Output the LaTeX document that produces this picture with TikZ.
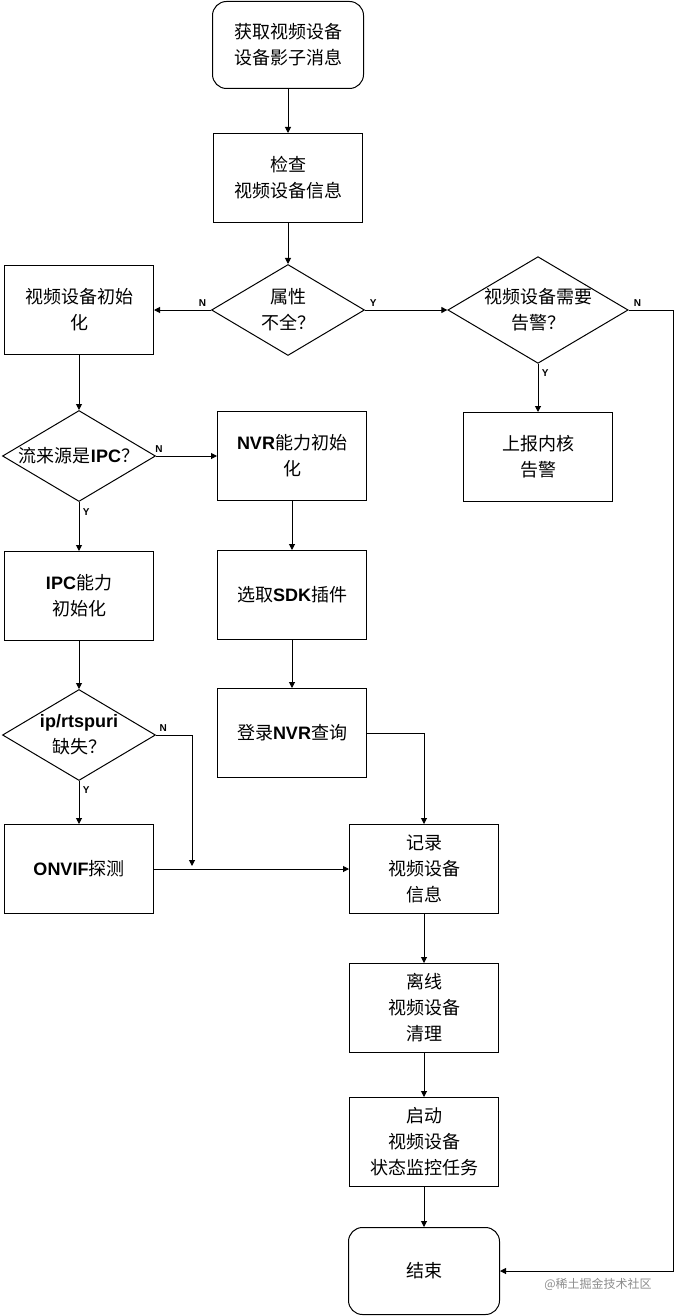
\documentclass[tikz,border=0pt]{standalone}
\usepackage{fontspec}
\setmainfont{Liberation Sans}
\newfontfamily\cjk{Noto Sans CJK SC}
\usetikzlibrary{shapes.geometric,arrows.meta}
\newcommand{\en}[1]{{\rmfamily\bfseries #1}}
\tikzset{
    box/.style={draw, line width=1, minimum width=149pt, minimum height=89pt, align=center, font=\cjk\fontsize{18}{26}\selectfont},
    term/.style={box, rounded corners=14pt, minimum width=151pt, minimum height=87pt},
    dec/.style={draw, line width=1, diamond, aspect=1.69, minimum width=153pt, minimum height=91pt, inner sep=0pt, align=center, font=\cjk\fontsize{18}{26}\selectfont},
    arr/.style={-{Triangle[length=6pt,width=6pt]}, line width=1},
    lab/.style={font=\rmfamily\bfseries\fontsize{10}{12}\selectfont}
}
\begin{document}
\begin{tikzpicture}[x=1pt, y=-1pt]
        \useasboundingbox (0,0) rectangle (683,1316);
        \node[term] (get) at (288,45) {获取视频设备\\设备影子消息};
        \node[box] (check) at (288,178) {检查\\视频设备信息};
        \node[dec] (attr) at (288,310) {属性\\不全？};
        \node[box] (init) at (79,310) {视频设备初始\\化};
        \node[dec] (alarm) at (538,310) {视频设备需要\\告警？};
        \node[box] (report) at (538,457) {上报内核\\告警};
        \node[dec] (src) at (79,456) {流来源是\en{IPC}？};
        \node[box] (nvr) at (292,456) {\en{NVR}能力初始\\化};
        \node[box] (ipc) at (79,596) {\en{IPC}能力\\初始化};
        \node[box] (sdk) at (292,595) {选取\en{SDK}插件};
        \node[dec] (miss) at (79,735) {\en{ip/rtspuri}\\缺失？};
        \node[box] (login) at (292,733) {登录\en{NVR}查询};
        \node[box] (onvif) at (79,869) {\en{ONVIF}探测};
        \node[box] (record) at (424,869) {记录\\视频设备\\信息};
        \node[box] (offline) at (424,1008) {离线\\视频设备\\清理};
        \node[box] (monitor) at (424,1142) {启动\\视频设备\\状态监控任务};
        \node[term] (end) at (424,1271) {结束};
        \node[font=\cjk\fontsize{12}{14}\selectfont, text=black!45] (mark) at (598,1284) {@稀土掘金技术社区};
        \coordinate (cA) at (673,310);
        \coordinate (cB) at (673,1271);
        \coordinate (cC) at (424,733);
        \coordinate (cD) at (192,735);
        \coordinate (cE) at (192,866);

        \draw[arr] (get) -- (check);
        \draw[arr] (check) -- (attr);
        \draw[arr] (attr) -- node[lab, pos=0.15, above]{N} (init);
        \draw[arr] (attr) -- node[lab, pos=0.1, above]{Y} (alarm);
        \draw[arr] (alarm.east) -- node[lab, pos=0.2, above]{N} (cA) -- (cB) -- (end);
        \draw[arr] (alarm) -- node[lab, pos=0.2, right]{Y} (report);
        \draw[arr] (init) -- (src);
        \draw[arr] (src) -- node[lab, pos=0.05, above]{N} (nvr);
        \draw[arr] (src) -- node[lab, pos=0.2, right]{Y} (ipc);
        \draw[arr] (nvr) -- (sdk);
        \draw[arr] (sdk) -- (login);
        \draw[arr] (login) -- (cC) -- (record);
        \draw[arr] (ipc) -- (miss);
        \draw[arr] (miss.east) -- node[lab, pos=0.2, above]{N} (cD) -- (cE);
        \draw[arr] (miss) -- node[lab, pos=0.2, right]{Y} (onvif);
        \draw[arr] (onvif) -- (record);
        \draw[arr] (record) -- (offline);
        \draw[arr] (offline) -- (monitor);
        \draw[arr] (monitor) -- (end);
        \end{tikzpicture}
\end{document}
